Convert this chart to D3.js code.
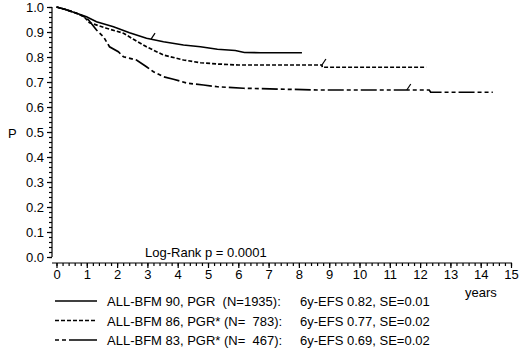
<!DOCTYPE html>
<html>
<head>
<meta charset="utf-8">
<script src="https://cdn.jsdelivr.net/npm/d3@7"></script>
<style>
  body { margin: 0; background: #fff; }
  svg { display: block; font-family: Arial, "Liberation Sans", sans-serif; }
  text { white-space: pre; }
</style>
</head>
<body>
<svg width="520" height="349"></svg>
<script>
// Kaplan-Meier estimates (years, probability)
var years90 = [0, 0.3, 0.66, 0.99, 1.32, 1.88, 2.41, 2.97, 3.53, 4.19, 4.75, 5.31, 5.9, 6.2, 6.73, 8.1];
var surv90  = [1.0, 0.99, 0.975, 0.961, 0.941, 0.921, 0.897, 0.875, 0.861, 0.848, 0.841, 0.831, 0.826, 0.818, 0.817, 0.817];

var years86 = [0, 0.3, 0.66, 0.9, 1.09, 1.65, 2.21, 2.54, 2.97, 3.53, 4.19, 4.75, 5.31, 6.0, 8.76, 8.77, 12.2];
var surv86  = [1.0, 0.99, 0.975, 0.962, 0.937, 0.915, 0.895, 0.871, 0.841, 0.808, 0.788, 0.777, 0.772, 0.768, 0.768, 0.759, 0.759];

var years83 = [0, 0.3, 0.66, 0.9, 1.06, 1.32, 1.55, 1.75, 2.04, 2.21, 2.64, 2.97, 3.2, 3.53, 3.86, 4.32, 4.85, 5.31, 6.17, 8.6, 12.3, 12.35, 14.4];
var surv83  = [1.0, 0.99, 0.975, 0.962, 0.948, 0.908, 0.881, 0.841, 0.821, 0.801, 0.788, 0.761, 0.741, 0.721, 0.711, 0.695, 0.688, 0.681, 0.675, 0.668, 0.668, 0.659, 0.659];

// last censored patient marks
var censorYears = [3.12, 8.76, 11.56];

var studyNames = ["ALL-BFM 90, PGR  (N=1935):", "ALL-BFM 86, PGR* (N=  783):", "ALL-BFM 83, PGR* (N=  467):"];
var efsLabels  = ["6y-EFS 0.82, SE=0.01", "6y-EFS 0.77, SE=0.02", "6y-EFS 0.69, SE=0.02"];

var xTicks = d3.range(0, 16);
var yTicks = d3.range(0, 11).map(function(i) { return i / 10; });

// line styles per study (solid, dashed, dash-dot)
var dashes = [null, "4,2", "16,3,4,3,4,3"];
var legendDashes = [null, "4,2", "4,3,4,3,28"];

var series = [
  {years: years90, surv: surv90},
  {years: years86, surv: surv86},
  {years: years83, surv: surv83}
];

var svg = d3.select("svg");

var x = d3.scaleLinear().domain([0, 15]).range([56.5, 511]);
var y = d3.scaleLinear().domain([0, 1]).range([257, 7]);

//y axis is drawn a few px left of year 0: minor ticks every 0.02
svg.append("g")
  .attr("transform", "translate(52,0)")
  .call(d3.axisLeft(y).tickValues(d3.range(0, 51).map(function(i) { return i / 50; }))
        .tickSize(3).tickFormat(""))
  .call(function(g) { g.select(".domain").remove(); });

var ay = svg.append("g")
  .attr("transform", "translate(52,0)")
  .call(d3.axisLeft(y).tickValues(yTicks).tickSize(5).tickPadding(3).tickFormat(d3.format(".1f")));
ay.select(".domain").attr("d", "M0," + y(1) + "V" + y(0));

//x axis sits a little below p=0, minor ticks every 0.2 years
svg.append("g")
  .attr("transform", "translate(0,263)")
  .call(d3.axisBottom(x).tickValues(d3.range(0, 76).map(function(i) { return i / 5; }))
        .tickSize(3).tickFormat(""))
  .call(function(g) { g.select(".domain").remove(); });

var ax = svg.append("g")
  .attr("transform", "translate(0,263)")
  .call(d3.axisBottom(x).tickValues(xTicks).tickSize(5).tickPadding(2).tickFormat(d3.format("d")));
ax.select(".domain").attr("d", "M52,0H512");

svg.selectAll(".tick text").attr("font-size", 13).attr("fill", "#000")
  .attr("font-family", "Arial, 'Liberation Sans', sans-serif");
svg.selectAll(".tick line, .domain").attr("stroke", "#000").attr("stroke-width", 1.2);

var line = d3.line()
  .x(function(d) { return x(d[0]); })
  .y(function(d) { return y(d[1]); });

series.forEach(function(s, i) {
  var pts = s.years.map(function(t, j) { return [t, s.surv[j]]; });
  svg.append("path")
    .attr("d", line(pts))
    .attr("fill", "none")
    .attr("stroke", "#000")
    .attr("stroke-width", 1.7)
    .attr("stroke-dasharray", dashes[i]);

  // censor tick: short slash on the curve
  var t = censorYears[i];
  var k = d3.bisectRight(s.years, t) - 1;
  var k2 = Math.min(k + 1, s.years.length - 1);
  var f = s.years[k2] === s.years[k] ? 0 : (t - s.years[k]) / (s.years[k2] - s.years[k]);
  var p = s.surv[k] + f * (s.surv[k2] - s.surv[k]);
  svg.append("line")
    .attr("x1", x(t)).attr("y1", y(p))
    .attr("x2", x(t) + 4).attr("y2", y(p) - 6)
    .attr("stroke", "#000").attr("stroke-width", 1.2);
});

svg.append("text")
  .attr("x", 8).attr("y", 138)
  .attr("font-size", 13)
  .text("P");

svg.append("text")
  .attr("x", 145).attr("y", 257)
  .attr("font-size", 13)
  .text("Log-Rank p = 0.0001");

svg.append("text")
  .attr("x", 465).attr("y", 297)
  .attr("font-size", 13)
  .text("years");

//legend
var leg = svg.selectAll(".legend")
  .data(studyNames)
  .enter().append("g")
  .attr("class", "legend")
  .attr("transform", function(d, i) { return "translate(0," + (301 + i * 19.5) + ")"; });

leg.append("line")
  .attr("x1", 55).attr("x2", 97)
  .attr("stroke", "#000").attr("stroke-width", 1.7)
  .attr("stroke-dasharray", function(d, i) { return legendDashes[i]; });

leg.append("text")
  .attr("x", 107).attr("y", 5)
  .attr("font-size", 13)
  .text(function(d) { return d; });

leg.append("text")
  .attr("x", 300).attr("y", 5)
  .attr("font-size", 13)
  .text(function(d, i) { return efsLabels[i]; });
</script>
</body>
</html>
